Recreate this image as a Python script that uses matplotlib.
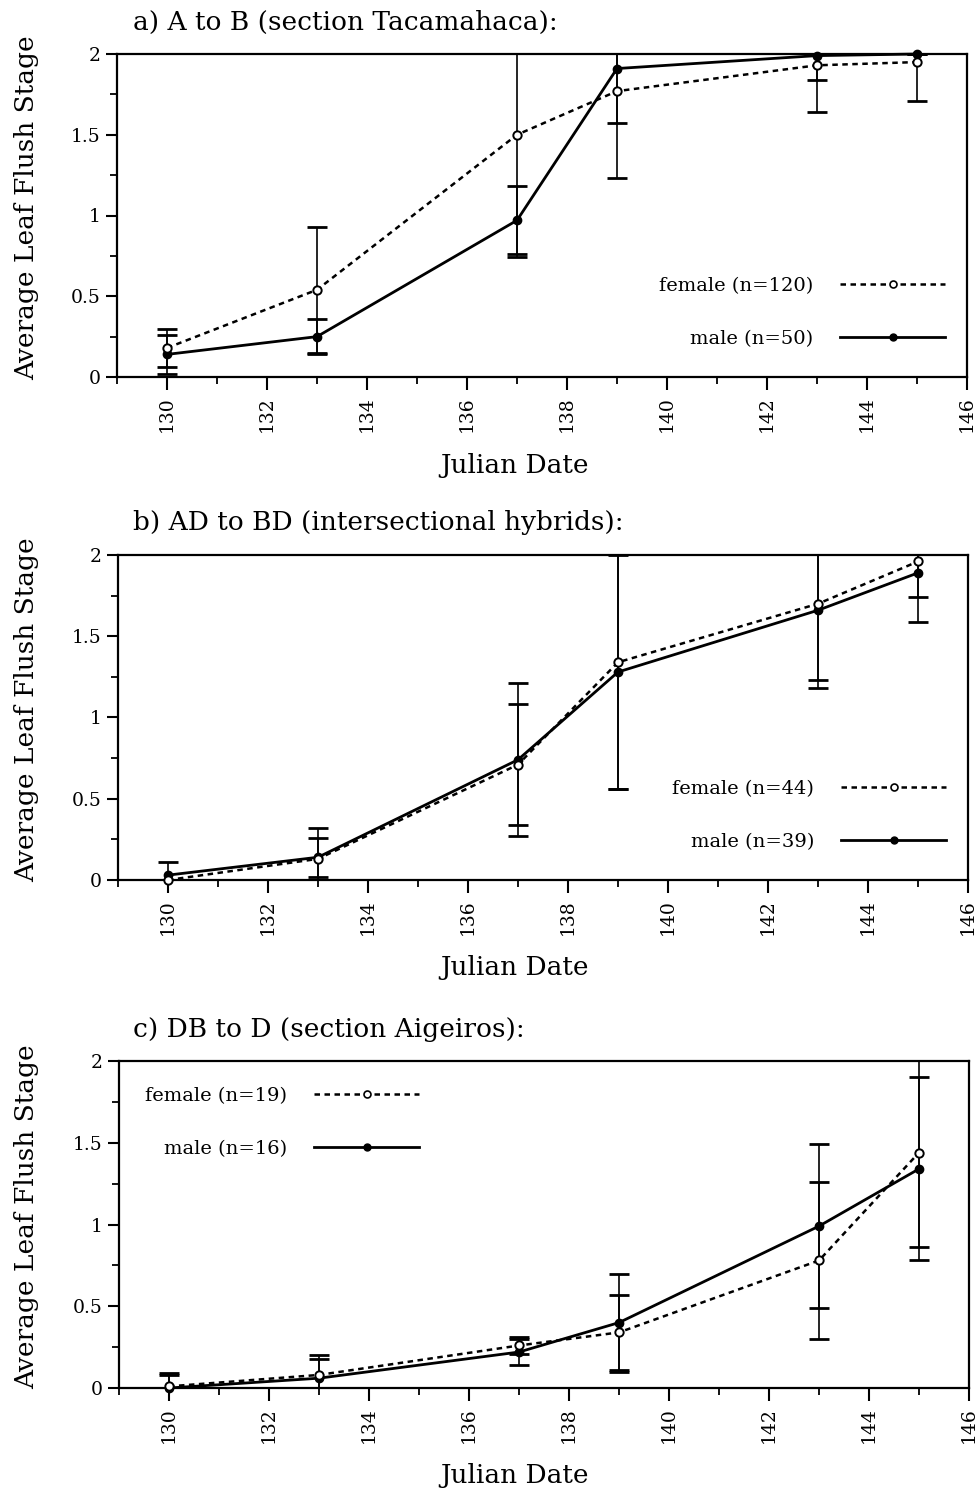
import matplotlib
matplotlib.use("Agg")
import matplotlib.pyplot as plt
from matplotlib.ticker import MultipleLocator, FuncFormatter
from matplotlib.lines import Line2D

plt.rcParams['font.family'] = ['DejaVu Serif']

# Julian dates of observation
days = [130, 133, 137, 139, 143, 145]

# a) A to B (section Tacamahaca)
a_female = [0.18, 0.54, 1.50, 1.77, 1.93, 1.95]
a_female_err = [0.12, 0.39, 0.76, 0.54, 0.29, 0.24]
a_male = [0.14, 0.25, 0.97, 1.91, 1.99, 2.00]
a_male_err = [0.12, 0.11, 0.21, 0.34, 0.15, 0.00]

# b) AD to BD (intersectional hybrids)
b_female = [0.00, 0.13, 0.71, 1.34, 1.70, 1.96]
b_female_err = [0.00, 0.19, 0.37, 0.78, 0.47, 0.22]
b_male = [0.03, 0.14, 0.74, 1.28, 1.66, 1.89]
b_male_err = [0.08, 0.12, 0.47, 0.72, 0.48, 0.30]

# c) DB to D (section Aigeiros)
c_female = [0.01, 0.08, 0.26, 0.34, 0.78, 1.44]
c_female_err = [0.08, 0.12, 0.05, 0.23, 0.48, 0.58]
c_male = [0.00, 0.06, 0.22, 0.40, 0.99, 1.34]
c_male_err = [0.08, 0.12, 0.08, 0.30, 0.50, 0.56]

titles = ["a) A to B (section Tacamahaca):",
          "b) AD to BD (intersectional hybrids):",
          "c) DB to D (section Aigeiros):"]
female_labels = ["female (n=120)", "female (n=44)", "female (n=19)"]
male_labels = ["male (n=50)", "male (n=39)", "male (n=16)"]

panels = [
    (a_female, a_female_err, a_male, a_male_err),
    (b_female, b_female_err, b_male, b_male_err),
    (c_female, c_female_err, c_male, c_male_err),
]

W, H = 980, 1502
fig = plt.figure(figsize=(W / 100, H / 100), dpi=100)

# axes boxes in pixels: left, top, right, bottom
boxes = [(117, 54, 967, 377), (118, 555, 968, 880), (119, 1061, 969, 1388)]
legend_locs = ["lower right", "lower right", "upper left"]
legend_anchor = [(0.995, 0.035), (0.995, 0.035), (0.01, 0.975)]


def fmt_y(v, pos):
    return ("%g" % v)


for i, (box, (fem, fem_e, mal, mal_e)) in enumerate(zip(boxes, panels)):
    l, t, r, b = box
    ax = fig.add_axes([l / W, 1 - b / H, (r - l) / W, (b - t) / H])
    ax.set_xlim(129, 146)
    ax.set_ylim(0, 2)

    ax.errorbar(days, fem, yerr=fem_e, fmt='none', ecolor='black',
                elinewidth=1.2, capsize=7, capthick=2.0, zorder=2)
    ax.errorbar(days, mal, yerr=mal_e, fmt='none', ecolor='black',
                elinewidth=1.2, capsize=7, capthick=2.0, zorder=2)
    ax.plot(days, fem, color='black', lw=1.8, linestyle=(0, (2.2, 1.8)),
            marker='o', ms=6, mfc='white', mec='black', mew=1.4,
            zorder=4, clip_on=False)
    ax.plot(days, mal, color='black', lw=2.0, linestyle='-',
            marker='o', ms=6, mfc='black', mec='black',
            zorder=3, clip_on=False)

    handles = [
        Line2D([], [], color='black', lw=1.8, linestyle=(0, (2.2, 1.8)),
               marker='o', ms=5, mfc='white', mec='black', mew=1.2),
        Line2D([], [], color='black', lw=2.0, linestyle='-',
               marker='o', ms=5, mfc='black', mec='black'),
    ]
    ax.legend(handles, [female_labels[i], male_labels[i]],
              loc=legend_locs[i], bbox_to_anchor=legend_anchor[i],
              markerfirst=False, frameon=False, handlelength=5.4,
              handletextpad=1.4, labelspacing=1.8, fontsize=14,
              numpoints=1)

    ax.xaxis.set_major_locator(MultipleLocator(2))
    ax.xaxis.set_minor_locator(MultipleLocator(1))
    ax.yaxis.set_major_locator(MultipleLocator(0.5))
    ax.yaxis.set_minor_locator(MultipleLocator(0.25))
    ax.yaxis.set_major_formatter(FuncFormatter(fmt_y))
    ax.tick_params(axis='x', which='major', direction='out', length=9,
                   width=1.5, labelsize=13.5, labelrotation=90, pad=5)
    ax.tick_params(axis='x', which='minor', direction='out', length=5,
                   width=1.3)
    ax.tick_params(axis='y', which='major', direction='out', length=8,
                   width=1.5, labelsize=13.5, pad=4)
    ax.tick_params(axis='y', which='minor', direction='out', length=5,
                   width=1.3)
    for s in ax.spines.values():
        s.set_linewidth(1.6)

    fig.text(133 / W, 1 - (t - 32) / H, titles[i], fontsize=19,
             va='center', ha='left')
    fig.text(515 / W, 1 - (b + 88) / H, "Julian Date", fontsize=19,
             va='center', ha='center')
    fig.text(27 / W, 1 - ((t + b) / 2 - 8) / H, "Average Leaf Flush Stage",
             fontsize=19, rotation=90, va='center', ha='center')

fig.savefig("out.png", dpi=100)
